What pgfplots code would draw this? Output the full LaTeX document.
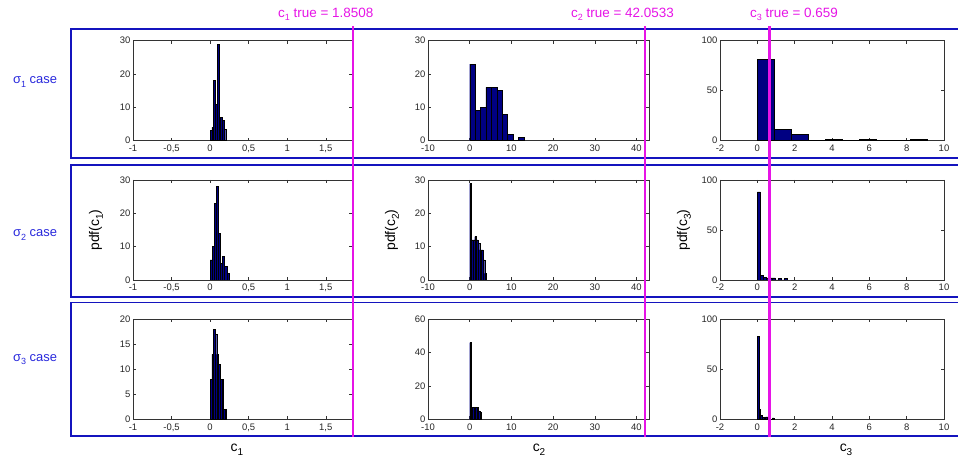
\documentclass[border=0pt]{standalone}
\usepackage{fontspec}
\setmainfont{Liberation Sans}
\usepackage{pgfplots}
\pgfplotsset{compat=1.18}
\definecolor{barnavy}{RGB}{0,0,130}
\definecolor{boxblue}{RGB}{20,20,190}
\definecolor{lblblue}{RGB}{40,40,220}
\definecolor{mag}{RGB}{230,20,230}
\newcommand{\sub}[1]{\raisebox{-0.45ex}{\fontsize{9}{10}\selectfont #1}}
\newcommand{\subb}[1]{\raisebox{-0.5ex}{\fontsize{10}{11}\selectfont #1}}
\pgfplotsset{
  hist/.style={scale only axis, height=100bp, ymin=0, anchor=south west,
    tick align=inside, tick pos=both, major tick length=3bp,
    axis line style={black!80, line width=0.6bp}, every tick/.style={black!80, line width=0.5bp},
    tick label style={font=\fontsize{9.5}{10}\selectfont, text=black!85, inner sep=0pt},
    yticklabel style={xshift=-2.5bp}, xticklabel style={yshift=-4bp},
    /pgf/number format/assume math mode=true, /pgf/number format/use comma},
  col1/.style={width=219bp, xmin=-1, xmax=1.84, xtick={-1,-0.5,0,0.5,1,1.5}},
  col2/.style={width=221bp, xmin=-10, xmax=43, xtick={-10,0,10,20,30,40}},
  col3/.style={width=224bp, xmin=-2, xmax=10, xtick={-2,0,2,4,6,8,10}},
  hbar/.style={ybar interval, fill=barnavy, draw=black, line width=0.4bp},
}
\begin{document}
\begin{tikzpicture}
\useasboundingbox (0,0) rectangle (958bp,463bp);
% row boxes
\draw[boxblue, line width=1.5bp] (958bp,434bp) -- (71bp,434bp) -- (71bp,305bp) -- (958bp,305bp);
\draw[boxblue, line width=1.5bp] (958bp,298bp) -- (71bp,298bp) -- (71bp,166bp) -- (958bp,166bp);
\draw[boxblue, line width=1.5bp] (958bp,160.5bp) -- (71bp,160.5bp) -- (71bp,27bp) -- (958bp,27bp);

% ---------------- row 1
\begin{axis}[hist, col1, at={(133bp,322.3bp)}, ymax=30, ytick={0,10,20,30}]
\addplot[hbar] coordinates {(0,3) (0.0225,4) (0.045,18) (0.0675,11) (0.09,29) (0.1125,7) (0.135,7) (0.1575,6) (0.18,3.5) (0.2025,0)};
\coordinate (m1) at (axis cs:1.8508,0);
\end{axis}
\begin{axis}[hist, col2, at={(428bp,322.3bp)}, ymax=30, ytick={0,10,20,30}]
\addplot[hbar] coordinates {(0,23) (1.3,9) (2.6,10) (3.9,16) (5.2,16) (6.5,15) (7.8,8) (9.1,2) (10.4,0) (11.7,1) (13.0,0)};
\coordinate (m2) at (axis cs:42.0533,0);
\end{axis}
\begin{axis}[hist, col3, at={(720bp,322.3bp)}, ymax=100, ytick={0,50,100}]
\addplot[hbar] coordinates {(0,81) (0.91,11) (1.82,6.5) (2.73,0) (3.64,1.5) (4.55,0) (5.46,1.5) (6.37,0) (7.28,0) (8.19,1.5) (9.1,0)};
\coordinate (m3) at (axis cs:0.659,0);
\end{axis}

% ---------------- row 2
\begin{axis}[hist, col1, at={(133bp,183bp)}, ymax=30, ytick={0,10,20,30}]
\addplot[hbar] coordinates {(0,6) (0.027,10) (0.054,23) (0.081,28) (0.108,14) (0.135,5) (0.162,7) (0.189,4) (0.216,2) (0.243,0)};
\end{axis}
\begin{axis}[hist, col2, at={(428bp,183bp)}, ymax=30, ytick={0,10,20,30}]
\addplot[hbar] coordinates {(0,29) (0.4,12) (0.8,12) (1.2,13) (1.6,12) (2.0,11) (2.4,9) (2.8,9) (3.2,6) (3.6,2) (4.0,0)};
\end{axis}
\begin{axis}[hist, col3, at={(720bp,183bp)}, ymax=100, ytick={0,50,100}]
\addplot[hbar] coordinates {(0,88) (0.16,4.5) (0.32,2.5) (0.48,2) (0.64,2) (0.8,2) (0.96,0) (1.12,1.5) (1.28,0) (1.44,1.5) (1.6,0)};
\end{axis}

% ---------------- row 3
\begin{axis}[hist, col1, at={(133bp,43.7bp)}, ymax=20, ytick={0,5,10,15,20}]
\addplot[hbar] coordinates {(0,8) (0.0215,13) (0.043,18) (0.0645,17) (0.086,13) (0.1075,11) (0.129,8) (0.1505,8) (0.172,2) (0.1935,2) (0.215,0)};
\end{axis}
\begin{axis}[hist, col2, at={(428bp,43.7bp)}, ymax=60, ytick={0,20,40,60}]
\addplot[hbar] coordinates {(0,46) (0.35,7) (0.7,7) (1.05,7) (1.4,7) (1.75,7) (2.1,5) (2.45,4) (2.8,0)};
\end{axis}
\begin{axis}[hist, col3, at={(720bp,43.7bp)}, ymax=100, ytick={0,50,100}]
\addplot[hbar] coordinates {(0,83) (0.089,10) (0.178,4) (0.267,2) (0.356,1.5) (0.445,2.5) (0.534,2.5) (0.623,0) (0.712,0) (0.801,1.5) (0.89,0)};
\end{axis}

% magenta true-value lines
\draw[mag, line width=2.6bp] (m1 |- 0,437bp) -- (m1 |- 0,26bp);
\draw[mag, line width=2.6bp] (m2 |- 0,437bp) -- (m2 |- 0,26bp);
\draw[mag, line width=2.6bp] (m3 |- 0,437bp) -- (m3 |- 0,26bp);

% magenta labels
\node[anchor=west, text=mag, font=\fontsize{13.5}{15}\selectfont, inner sep=0pt] at (278bp,449bp) {c\sub{1} true = 1.8508};
\node[anchor=west, text=mag, font=\fontsize{13.5}{15}\selectfont, inner sep=0pt] at (571bp,449bp) {c\sub{2} true = 42.0533};
\node[anchor=west, text=mag, font=\fontsize{13.5}{15}\selectfont, inner sep=0pt] at (750bp,449bp) {c\sub{3} true = 0.659};

% row labels
\node[text=lblblue, font=\fontsize{13}{15}\selectfont] at (35bp,381bp) {σ\sub{1} case};
\node[text=lblblue, font=\fontsize{13}{15}\selectfont] at (35bp,228bp) {σ\sub{2} case};
\node[text=lblblue, font=\fontsize{13}{15}\selectfont] at (35bp,103bp) {σ\sub{3} case};

% y labels
\node[rotate=90, font=\fontsize{14}{16}\selectfont] at (96bp,233bp) {pdf(c\subb{1})};
\node[rotate=90, font=\fontsize{14}{16}\selectfont] at (392bp,233bp) {pdf(c\subb{2})};
\node[rotate=90, font=\fontsize{14}{16}\selectfont] at (684bp,233bp) {pdf(c\subb{3})};

% x labels
\node[font=\fontsize{14}{16}\selectfont] at (237bp,13bp) {c\subb{1}};
\node[font=\fontsize{14}{16}\selectfont] at (539bp,13bp) {c\subb{2}};
\node[font=\fontsize{14}{16}\selectfont] at (846bp,13bp) {c\subb{3}};
\end{tikzpicture}
\end{document}
